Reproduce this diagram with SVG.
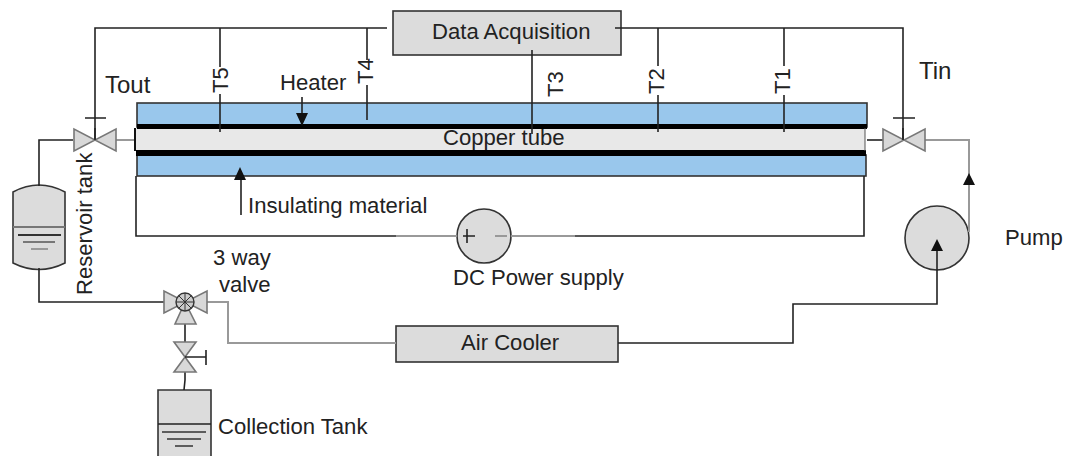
<svg xmlns="http://www.w3.org/2000/svg" width="1069" height="456" viewBox="0 0 1069 456">
<style>
text{font-family:"Liberation Sans",Arial,sans-serif;font-size:22.1px;fill:#222}
.big{font-size:24px}
.w{fill:none;stroke:#222;stroke-width:1.6}
.g{fill:none;stroke:#999;stroke-width:2}
.f{fill:#dcdcdc;stroke:#333;stroke-width:1.6}
.v{fill:#d8d8d8;stroke:#777;stroke-width:1.6}
.b{fill:#99c7ec;stroke:#333;stroke-width:1.6}
.h{fill:#111}
</style>
<defs>
<path id="valve" class="v" d="M-21-11V11L21-11V11Z"/>
</defs>
<rect width="1069" height="456" fill="#fff"/>
<g id="heater-jacket"><rect class="b" x="137" y="103" width="730" height="24"/><rect class="b" x="137" y="155" width="729" height="21"/></g>
<g id="copper-tube">
<rect x="134" y="128" width="731" height="23" fill="#e8e8e8"/>
<path d="M137 124H867V129H137ZM136 150H866V156H136Z" fill="#000"/>
<path d="M135 128V151" stroke="#111" stroke-width="2" fill="none"/><path d="M865 128V151" stroke="#555" stroke-width="1"/>
<text x="443" y="145">Copper tube</text>
</g>
<g id="data-acquisition"><rect class="f" x="393" y="11" width="228" height="44"/><text x="432" y="39">Data Acquisition</text></g>
<g id="air-cooler"><rect class="f" x="396" y="326" width="222" height="36"/><text x="461" y="350">Air Cooler</text></g>
<g id="dc-supply"><circle class="f" cx="484" cy="236" r="27"/><path class="w" d="M463 236H475M467 229V243"/><path class="g" d="M495 236H507"/><text x="453" y="285">DC Power supply</text></g>
<g id="pump"><circle class="f" cx="937" cy="238" r="32"/><text x="1005" y="245">Pump</text></g>
<g id="reservoir-tank">
<path class="f" d="M13 192Q39 178 65 192V263Q39 276 13 263Z" stroke="#666"/>
<path d="M13 227H65" stroke="#777" stroke-width="2"/><path d="M18 235H61" stroke="#333" stroke-width="2"/><path d="M23 242H55" stroke="#777" stroke-width="2"/><path d="M31 249H48" stroke="#999" stroke-width="2"/>
<text transform="translate(92 295) rotate(-90)">Reservoir tank</text>
</g>
<g id="collection-tank">
<path class="f" d="M158 456V390H211V456"/><path d="M158 424H211" stroke="#222" stroke-width="1.6"/><path d="M162 432H206M167 439H201M175 446H193" stroke="#333" stroke-width="1.6"/>
<text x="218" y="434">Collection Tank</text>
</g>
<g id="connectors">
<path class="w" d="M387 28H95V140"/>
<path class="w" d="M615 28H903V140"/>
<path class="w" d="M220 28V67M220 94V132"/>
<path class="w" d="M367 28V60M367 85V120"/>
<path class="w" d="M532 50V134"/>
<path class="w" d="M658 28V66M658 95V132"/>
<path class="w" d="M784 28V66M784 95V132"/>
<path class="w" d="M85 118H106M893 118H915"/>
<path class="w" d="M73 140H39V186"/>
<path class="g" d="M116 140H134"/>
<path class="w" d="M867 140H883"/>
<path class="g" d="M925 140H969V232"/>
<path class="w" d="M39 268V302H164"/>
<path class="g" d="M207 302H228V343H396"/>
<path class="w" d="M618 343H793V304H937V250"/>
<path class="w" d="M185 324V342"/>
<path class="w" d="M185 372V380L184 390"/>
<path class="w" d="M136 176V236H396M575 236H864V176"/>
<path class="g" d="M396 236H457M511 236H575"/>
<path class="w" d="M302 97V116M241 215V176"/>
<path class="h" d="M302 126 296 113H308ZM240 167 234 180H246ZM937 239 931 251H943ZM969 173 963 185H975Z"/>
</g>
<g id="valve-out"><use href="#valve" x="95" y="140"/><path class="w" d="M95 128V140"/></g>
<g id="valve-in"><use href="#valve" x="904" y="140"/><path class="w" d="M903 128V140"/></g>
<g id="three-way-valve">
<path class="v" d="M164 291V313L207 291V313Z"/><path class="v" d="M185 302 175 324H196Z"/><circle cx="185" cy="302" r="9" fill="#ccc" stroke="#333" stroke-width="1.4"/><path d="M179 296 191 308M191 296 179 308M176 302H194M185 293V311" stroke="#333" stroke-width="1" fill="none"/>
</g>
<g id="drain-valve"><path class="v" d="M174 342H196L174 372H196Z"/><path class="w" d="M185 357H206M206 350V365"/></g>
<g id="labels">
<text class="big" x="105" y="93">Tout</text><text class="big" x="919" y="79">Tin</text>
<text x="280" y="90">Heater</text>
<text x="248" y="213">Insulating material</text>
<text x="213" y="265">3 way</text><text x="219" y="292">valve</text>
<text transform="translate(228 93) rotate(-90)">T5</text>
<text transform="translate(373 84) rotate(-90)">T4</text>
<text transform="translate(563 97) rotate(-90)">T3</text>
<text transform="translate(664 94) rotate(-90)">T2</text>
<text transform="translate(790 94) rotate(-90)">T1</text>
</g>
</svg>
